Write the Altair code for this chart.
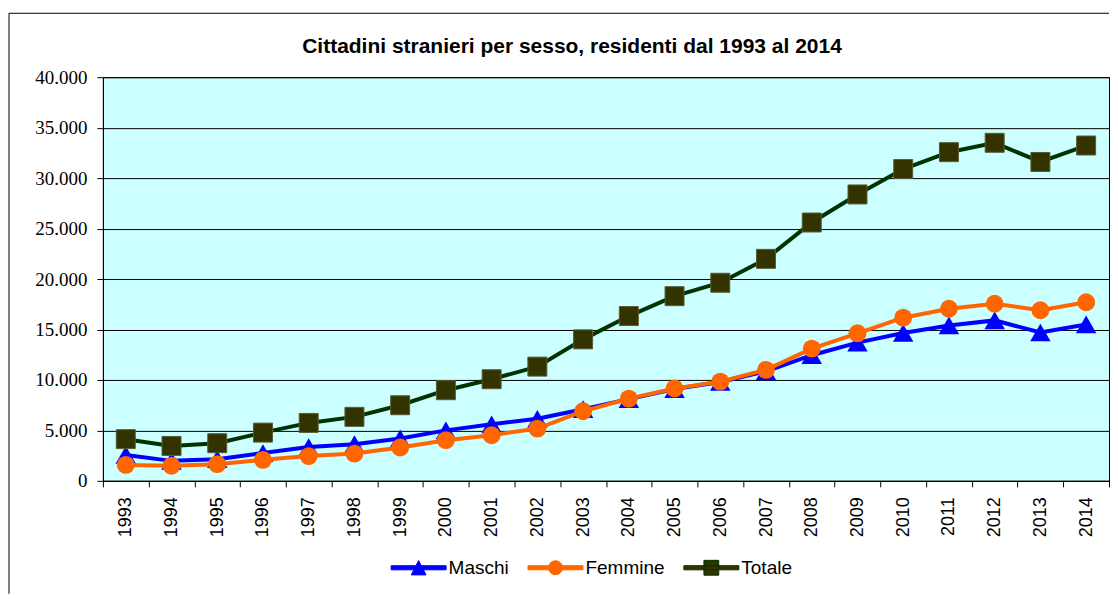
import altair as alt
import pandas as pd

# ---- data ----
anni = ["1993", "1994", "1995", "1996", "1997", "1998", "1999", "2000", "2001", "2002", "2003",
        "2004", "2005", "2006", "2007", "2008", "2009", "2010", "2011", "2012", "2013", "2014"]
maschi = [2570, 1980, 2150, 2750, 3350, 3630, 4200, 5000, 5600, 6150, 7100,
          8100, 9100, 9800, 10850, 12450, 13700, 14650, 15400, 15900, 14700, 15500]
femmine = [1580, 1490, 1650, 2080, 2450, 2700, 3300, 4030, 4520, 5180, 6900,
           8150, 9150, 9830, 11000, 13100, 14620, 16170, 17050, 17550, 16900, 17700]
totale = [4130, 3460, 3730, 4780, 5740, 6340, 7490, 8980, 10070, 11320, 14020,
          16330, 18300, 19630, 22000, 25600, 28380, 30900, 32570, 33500, 31600, 33230]
serie = ["Maschi", "Femmine", "Totale"]
y_ticks = [0, 5000, 10000, 15000, 20000, 25000, 30000, 35000, 40000]
titolo = "Cittadini stranieri per sesso, residenti dal 1993 al 2014"

# ---- styles ----
line_colors = {"Maschi": "#0000FF", "Femmine": "#FF6600", "Totale": "#003300"}
marker_fill = {"Maschi": "#0000FF", "Femmine": "#FF6600", "Totale": "#333300"}
marker_stroke = {"Maschi": "#0000FF", "Femmine": "#FF6600", "Totale": "#5A5A33"}
marker_shape = {"Maschi": "triangle-up", "Femmine": "circle", "Totale": "square"}
marker_size = {"Maschi": 420, "Femmine": 320, "Totale": 361}

# legend symbols: line segment + marker (custom paths in [-1,1] space)
bar = "M-1,-0.075H1V0.075H-1Z"
leg_paths = [
    bar + " M0,-0.26L0.27,0.26L-0.27,0.26Z",
    bar + " M-0.255,0A0.255,0.255 0 1,1 0.255,0A0.255,0.255 0 1,1 -0.255,0Z",
    bar + " M-0.27,-0.27H0.27V0.27H-0.27Z",
]

df = pd.DataFrame({
    "anno": anni * 3,
    "valore": maschi + femmine + totale,
    "serie": ["Maschi"] * len(anni) + ["Femmine"] * len(anni) + ["Totale"] * len(anni),
})

W, H = 1007, 404

x_enc = alt.X("anno:O",
              scale=alt.Scale(type="band", domain=anni, paddingInner=0, paddingOuter=0),
              axis=alt.Axis(title=None, labelAngle=270, labelFont="Liberation Sans",
                            labelFontSize=18, labelColor="black", tickBand="extent",
                            tickSize=6, tickColor="black", domainColor="black",
                            labelPadding=10, grid=False))
y_enc = alt.Y("valore:Q",
              scale=alt.Scale(domain=[0, 40000], nice=False),
              axis=alt.Axis(title=None, values=y_ticks, labelFont="Liberation Serif",
                            labelFontSize=19, labelColor="black", tickSize=6,
                            tickColor="black", domainColor="black", labelPadding=10,
                            grid=True, gridColor="black", gridWidth=1,
                            labelExpr="replace(format(datum.value, ','), ',', '.')"))

layers = []
for s in serie:
    b = alt.Chart(df).transform_filter(alt.datum.serie == s)
    layers.append(b.mark_line(color=line_colors[s], strokeWidth=4).encode(x=x_enc, y=y_enc))
    layers.append(b.mark_point(filled=True, shape=marker_shape[s], size=marker_size[s],
                               fill=marker_fill[s], stroke=marker_stroke[s],
                               strokeWidth=1 if s == "Totale" else 0, opacity=1)
                  .encode(x=x_enc, y=y_enc))

leg = alt.Legend(orient="none", legendX=288, legendY=463, direction="horizontal",
                 title=None, labelFont="Liberation Sans", labelFontSize=19,
                 labelColor="black", symbolSize=3025, symbolStrokeWidth=1,
                 labelOffset=2, columnPadding=16, padding=0)
legend_layer = alt.Chart(df).transform_filter("false").mark_point(filled=True, opacity=1).encode(
    x=x_enc, y=y_enc,
    shape=alt.Shape("serie:N", scale=alt.Scale(domain=serie, range=leg_paths), legend=leg),
    fill=alt.Fill("serie:N", scale=alt.Scale(domain=serie, range=[marker_fill[s] for s in serie]), legend=leg),
    stroke=alt.Stroke("serie:N", scale=alt.Scale(domain=serie, range=[line_colors[s] for s in serie]), legend=leg),
)

frame_df = pd.DataFrame({"k": [0]})
frame_top = alt.Chart(frame_df).mark_rule(color="black", strokeWidth=1).encode(
    x=alt.value(-94), x2=alt.value(W), y=alt.value(-64))
frame_left = alt.Chart(frame_df).mark_rule(color="black", strokeWidth=1).encode(
    x=alt.value(-94), y=alt.value(-64), y2=alt.value(517))

chart = alt.layer(*layers, legend_layer, frame_top, frame_left).properties(
    width=W, height=H,
    background="white",
    padding={"left": 0, "top": 4, "right": 0, "bottom": 0},
    title=alt.TitleParams(titolo, font="Liberation Sans", fontSize=21, fontWeight="bold",
                          color="black", anchor="middle", frame="group", dx=-34, offset=-44),
).configure_view(fill="#CCFFFF", stroke="black", strokeWidth=1)

chart.save("out.html", embed_options={"renderer": "svg", "actions": False})
